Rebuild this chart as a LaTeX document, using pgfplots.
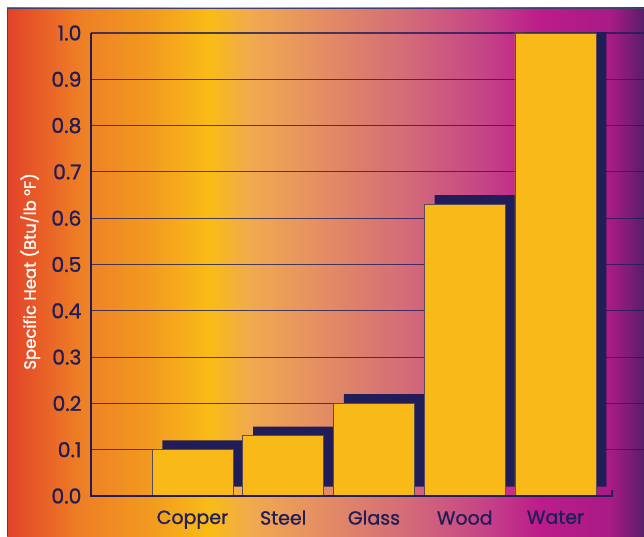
\documentclass[border=0pt]{standalone}
\usepackage{fontspec}
\setmainfont{Poppins}[FakeBold=1]
\usepackage{pgfplots}
\pgfplotsset{compat=1.18}

\definecolor{navy}{HTML}{201D58}
\definecolor{baryellow}{HTML}{F9B918}
\definecolor{barline}{HTML}{5C4A55}
\definecolor{c0}{HTML}{E3422A}
\definecolor{c1}{HTML}{EE7F25}
\definecolor{c2}{HTML}{F29A20}
\definecolor{c3}{HTML}{F9BC16}
\definecolor{c4}{HTML}{F0AA4E}
\definecolor{c5}{HTML}{E8965E}
\definecolor{c6}{HTML}{D46E77}
\definecolor{c7}{HTML}{C64686}
\definecolor{c8}{HTML}{BC1C8A}
\definecolor{c9}{HTML}{A81B86}
\definecolor{c10}{HTML}{5A1E68}

\pgfdeclarehorizontalshading{panelbg}{100bp}{%
  color(0bp)=(c0); color(25bp)=(c0); color(30.73bp)=(c1); color(36.22bp)=(c2);
  color(40.93bp)=(c3); color(44.07bp)=(c4); color(48bp)=(c5); color(55.85bp)=(c6);
  color(62.13bp)=(c7); color(66.84bp)=(c8); color(72.33bp)=(c9); color(75bp)=(c10);
  color(100bp)=(c10)}

\pgfplotstableread{
x  y
0  0.10
1  0.13
2  0.20
3  0.63
4  1.00
}\heatdata

\pgfplotstableread{
x  y
0  0.02
1  0.02
2  0.02
3  0.02
4  0.02
}\shadowbase

\begin{document}
\begin{tikzpicture}[x=1pt,y=1pt]
\useasboundingbox (0,0) rectangle (644,536);
\fill[white] (0,0) rectangle (644,536);
\shade[shading=panelbg] (7,0) rectangle (644,528);
\draw[navy!85!white, line width=1.4pt] (7.7,0) -- (7.7,527.3) -- (644,527.3);

% axis 1: grid + shadows
\begin{axis}[
  at={(91pt,40pt)}, anchor=south west, scale only axis,
  width=553pt, height=463pt,
  xmin=-1.118, xmax=4.975, ymin=0, ymax=1,
  ybar stacked,
  axis line style={draw=none},
  major tick length=0pt,
  xtick=\empty,
  ytick={0.1,0.2,0.3,0.4,0.5,0.6,0.7,0.8,0.9,1.0},
  yticklabels={},
  ymajorgrids,
  grid style={draw=navy, draw opacity=0.8, line width=1.1pt},
]
\addplot[draw=none, fill=none, bar width=0.893, bar shift=0.115] table[x=x,y=y] {\shadowbase};
\addplot[draw=none, fill=navy, bar width=0.893, bar shift=0.115] table[x=x,y=y] {\heatdata};
\end{axis}

% axis 2: bars, labels, axis lines
\begin{axis}[
  at={(91pt,40pt)}, anchor=south west, scale only axis,
  width=553pt, height=463pt,
  xmin=-1.118, xmax=4.975, ymin=0, ymax=1,
  ybar,
  axis line style={draw=none},
  major tick length=0pt,
  xtick={0,1,2,3,4},
  xticklabels={Copper,Steel,Glass,Wood,Water},
  ytick={0,0.1,0.2,0.3,0.4,0.5,0.6,0.7,0.8,0.9,1.0},
  /pgf/number format/.cd, fixed, fixed zerofill, precision=1, assume math mode=true,
  /pgfplots/.cd,
  ticklabel style={text=navy},
  yticklabel style={anchor=east, xshift=-6pt, font=\fontsize{20.5}{23}\selectfont},
  xticklabel style={anchor=north, yshift=-11pt, font=\fontsize{19}{22}\selectfont},
  ylabel={Specific Heat (Btu/lb\ °F)},
  ylabel style={at={(axis description cs:-0.110,0.485)}, anchor=center, rotate=0,
    text=white, font=\fontsize{16.5}{19}\selectfont},
  clip=false,
]
\addplot[draw=barline, line width=0.7pt, fill=baryellow, bar width=0.893, bar shift=0] table[x=x,y=y] {\heatdata};
\draw[navy, line width=2.2pt] (rel axis cs:0,1) -- (rel axis cs:0,0) -- (axis cs:4.623,0) -- ++(0pt,6pt);
\end{axis}
\end{tikzpicture}
\end{document}
